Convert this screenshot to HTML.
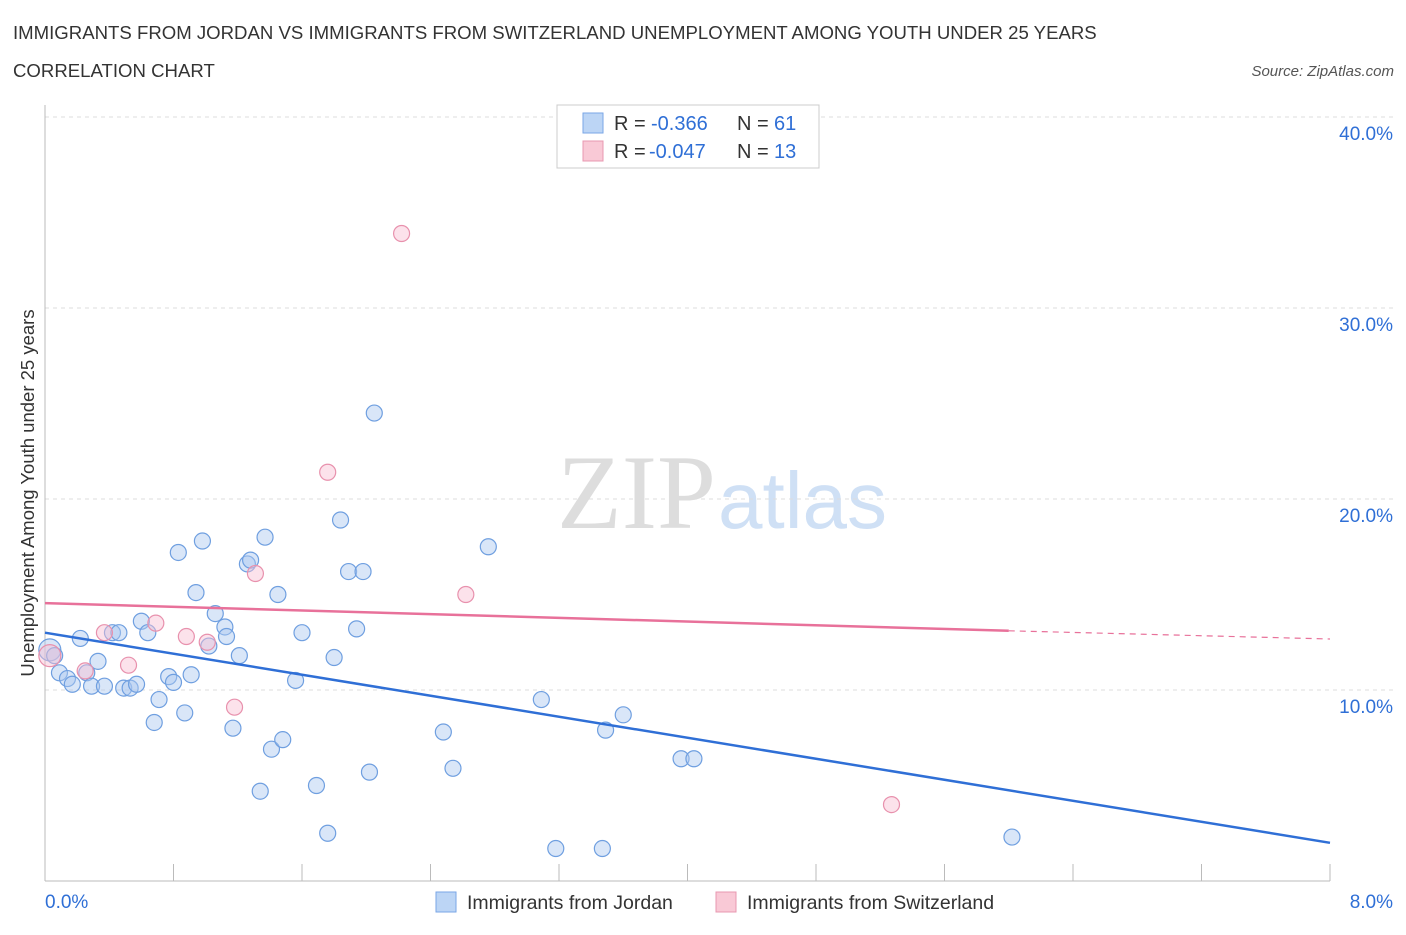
<!DOCTYPE html>
<html><head><meta charset="utf-8"><style>
body{margin:0;background:#fff;font-family:"Liberation Sans",sans-serif}
svg text{font-family:"Liberation Sans",sans-serif}
</style></head><body>
<svg width="1406" height="930" id="c">
<text x="13" y="39" font-size="18.6" fill="#333">IMMIGRANTS FROM JORDAN VS IMMIGRANTS FROM SWITZERLAND UNEMPLOYMENT AMONG YOUTH UNDER 25 YEARS</text>
<text x="13" y="77" font-size="18.6" fill="#333">CORRELATION CHART</text>
<text x="1394" y="76" font-size="15" fill="#555" font-style="italic" text-anchor="end">Source: ZipAtlas.com</text>
<text x="716" y="528" font-size="106" fill="#ddd" text-anchor="end" style="font-family:'Liberation Serif',serif">ZIP</text>
<text x="718" y="528" font-size="80" fill="#cfe0f5">atlas</text>
<text transform="translate(34,493) rotate(-90)" font-size="18.5" fill="#333" text-anchor="middle">Unemployment Among Youth under 25 years</text>
<g id="grid"></g><g id="pts"></g><g id="lines"></g>
<g>
<rect x="557" y="105" width="262" height="63" fill="#fff" stroke="#ccc"/>
<rect x="583" y="113" width="20" height="20" fill="#bcd5f5" stroke="#7aa6e6"/>
<text x="614" y="130" font-size="20" fill="#333">R =</text>
<text x="651" y="130" font-size="20" fill="#2f6fd6">-0.366</text>
<text x="737" y="130" font-size="20" fill="#333">N =</text>
<text x="774" y="130" font-size="20" fill="#2f6fd6">61</text>
<rect x="583" y="141" width="20" height="20" fill="#f9c9d6" stroke="#e898b0"/>
<text x="614" y="158" font-size="20" fill="#333">R =</text>
<text x="649" y="158" font-size="20" fill="#2f6fd6">-0.047</text>
<text x="737" y="158" font-size="20" fill="#333">N =</text>
<text x="774" y="158" font-size="20" fill="#2f6fd6">13</text>
</g>
<g>
<rect x="436" y="892" width="20" height="20" fill="#bcd5f5" stroke="#7aa6e6"/>
<text x="467" y="909" font-size="19.5" fill="#333">Immigrants from Jordan</text>
<rect x="716" y="892" width="20" height="20" fill="#f9c9d6" stroke="#e898b0"/>
<text x="747" y="909" font-size="19.5" fill="#333">Immigrants from Switzerland</text>
</g>
</svg>
<script>
const blueX=[0.03,0.06,0.09,0.14,0.17,0.22,0.26,0.29,0.33,0.37,0.42,0.46,0.49,0.53,0.57,0.60,0.64,0.68,0.71,0.77,0.80,0.83,0.87,0.91,0.94,0.98,1.02,1.06,1.12,1.13,1.17,1.21,1.26,1.28,1.34,1.37,1.41,1.45,1.48,1.56,1.60,1.69,1.76,1.80,1.84,1.89,1.94,1.98,2.02,2.05,2.48,2.54,2.76,3.09,3.18,3.47,3.49,3.60,3.96,4.04,6.02];
const blueY=[12.1,11.8,10.9,10.6,10.3,12.7,10.9,10.2,11.5,10.2,13.0,13.0,10.1,10.1,10.3,13.6,13.0,8.3,9.5,10.7,10.4,17.2,8.8,10.8,15.1,17.8,12.3,14.0,13.3,12.8,8.0,11.8,16.6,16.8,4.7,18.0,6.9,15.0,7.4,10.5,13.0,5.0,2.5,11.7,18.9,16.2,13.2,16.2,5.7,24.5,7.8,5.9,17.5,9.5,1.7,1.7,7.9,8.7,6.4,6.4,2.3];
const pinkX=[0.03,0.25,0.37,0.52,0.69,0.88,1.01,1.18,1.31,1.76,2.22,2.62,5.27];
const pinkY=[11.8,11.0,13.0,11.3,13.5,12.8,12.5,9.1,16.1,21.4,33.9,15.0,4.0];
const yTicks=[10,20,30,40];
const xTickVals=[0.8,1.6,2.4,3.2,4.0,4.8,5.6,6.4,7.2,8.0];
const blueTrend=[13.0,2.0];
const pinkTrend=[14.55,13.1,12.67];
const X=v=>45+v/8*1285, Y=v=>881-v*19.1;
const NS='http://www.w3.org/2000/svg';
function mk(t,a,p){const e=document.createElementNS(NS,t);for(const k in a)e.setAttribute(k,a[k]);p.appendChild(e);return e;}
const g=document.getElementById('grid');
yTicks.forEach(t=>{const l=mk('line',{x1:45,x2:1394,y1:Y(t),y2:Y(t),stroke:'#ddd','stroke-dasharray':'4 4'},g);


const tx=mk('text',{x:1393,y:Y(t)+23,'font-size':19,fill:'#2f6fd6','text-anchor':'end'},g);tx.textContent=t.toFixed(1)+'%';

});
const ax=mk('line',{x1:45,x2:45,y1:105,y2:881,stroke:'#bbb'},g);


const bx=mk('line',{x1:45,x2:1330,y1:881,y2:881,stroke:'#bbb'},g);


xTickVals.forEach(t=>{const l=mk('line',{x1:X(t),x2:X(t),y1:864,y2:881,stroke:'#bbb'},g);

});
[[0,'start',45],[8,'end',1393]].forEach(([v,a,x])=>{const tx=mk('text',{x:x,y:908,'font-size':19,fill:'#2f6fd6','text-anchor':a},g);tx.textContent=v.toFixed(1)+'%';

});
const p=document.getElementById('pts');
blueX.forEach((v,i)=>{const c=mk('circle',{cx:X(v),cy:Y(blueY[i]),r:i==0?11:8,fill:'rgba(170,200,240,0.45)',stroke:'#6f9fe0','stroke-width':1.2},p);

});
pinkX.forEach((v,i)=>{const c=mk('circle',{cx:X(v),cy:Y(pinkY[i]),r:i==0?11:8,fill:'rgba(248,190,210,0.45)',stroke:'#e891ad','stroke-width':1.2},p);

});
const L=document.getElementById('lines');
const b=mk('line',{x1:X(0),y1:Y(blueTrend[0]),x2:X(8),y2:Y(blueTrend[1]),stroke:'#2f6fd6','stroke-width':2.5},L);


const pk=mk('line',{x1:X(0),y1:Y(pinkTrend[0]),x2:X(6),y2:Y(pinkTrend[1]),stroke:'#e8719a','stroke-width':2.5},L);


const pd=mk('line',{x1:X(6),y1:Y(pinkTrend[1]),x2:X(8),y2:Y(pinkTrend[2]),stroke:'#e8719a','stroke-width':1.2,'stroke-dasharray':'6 5'},L);


</script>
</body></html>
